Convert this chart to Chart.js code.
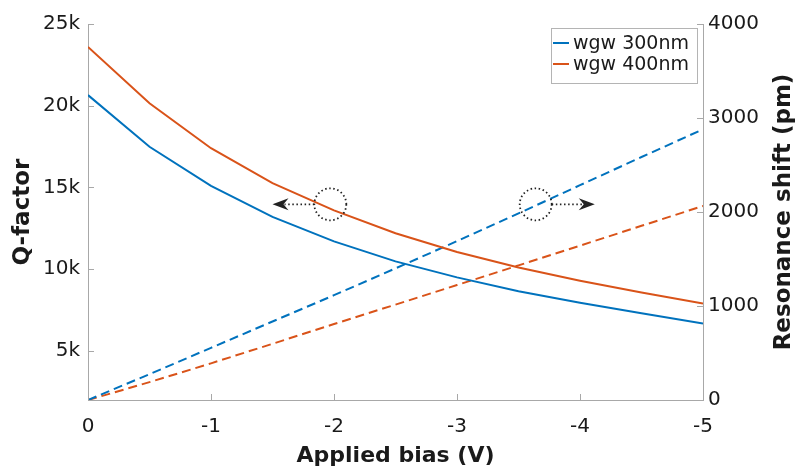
<!DOCTYPE html>
<html>
<head>
<meta charset="utf-8">
<script src="https://cdn.jsdelivr.net/npm/chart.js@4.4.1/dist/chart.umd.min.js"></script>
<style>
  html, body { margin: 0; padding: 0; background: #fff; }
  #wrap { width: 799px; height: 470px; }
</style>
</head>
<body>
<div id="wrap"><canvas id="chart"></canvas></div>
<script>
// applied bias (V), sampled every 0.5 V
const bias = [0, -0.5, -1, -1.5, -2, -2.5, -3, -3.5, -4, -4.5, -5]

// Q-factor (left axis)
const q300 = [20650, 17490, 15100, 13200, 11700, 10480, 9500, 8650, 7950, 7300, 6680]
const q400 = [23600, 20150, 17400, 15270, 13600, 12200, 11050, 10100, 9300, 8580, 7900]

// resonance shift in pm (right axis)
const shift300 = [0, 275, 555, 835, 1115, 1400, 1690, 1985, 2285, 2585, 2880]
const shift400 = [0, 190, 390, 598, 808, 1015, 1223, 1432, 1642, 1853, 2064]

const seriesNames = ['wgw 300nm', 'wgw 400nm']

const biasTicks = [0, -1, -2, -3, -4, -5]
const qTicks = [5000, 10000, 15000, 20000, 25000]
const shiftTicks = [0, 1000, 2000, 3000, 4000]

const BLUE = '#0072BD'
const ORANGE = '#D95319'
const AXIS = '#a8a8a8'
const TEXT = '#1a1a1a'
const FONT = 'DejaVu Sans'

const pts = (ys) => bias.map((b, i) => ({ x: b, y: ys[i] }))

// inward ticks, legend box, right title and the little circle/arrow marks
const extras = {
  id: 'extras',
  afterDraw(chart) {
    const ctx = chart.ctx
    const area = chart.chartArea
    const sx = chart.scales.x, sq = chart.scales.yQ, ss = chart.scales.yS
    ctx.save()

    ctx.strokeStyle = AXIS
    ctx.lineWidth = 1
    ctx.beginPath()
    sx.ticks.forEach(t => {
      const px = Math.round(sx.getPixelForValue(t.value)) + 0.5
      ctx.moveTo(px, area.bottom); ctx.lineTo(px, area.bottom - 6)
    })
    sq.ticks.forEach(t => {
      const py = Math.round(sq.getPixelForValue(t.value)) + 0.5
      ctx.moveTo(area.left, py); ctx.lineTo(area.left + 6, py)
    })
    ss.ticks.forEach(t => {
      const py = Math.round(ss.getPixelForValue(t.value)) + 0.5
      ctx.moveTo(area.right, py); ctx.lineTo(area.right - 6, py)
    })
    ctx.stroke()

    // right axis title, reading bottom to top
    ctx.fillStyle = TEXT
    ctx.font = 'bold 23px "' + FONT + '"'
    ctx.textAlign = 'center'
    ctx.textBaseline = 'middle'
    ctx.translate(784, (area.top + area.bottom) / 2)
    ctx.rotate(-Math.PI / 2)
    ctx.fillText('Resonance shift (pm)', 0, 0)
    ctx.setTransform(1, 0, 0, 1, 0, 0)

    // legend
    const lx = area.right - 152, ly = area.top + 4, lw = 146, lh = 55
    ctx.fillStyle = '#fff'
    ctx.fillRect(lx, ly, lw, lh)
    ctx.strokeStyle = '#b4b4b4'
    ctx.strokeRect(lx + 0.5, ly + 0.5, lw, lh)
    ctx.font = '19px "' + FONT + '"'
    ctx.textAlign = 'left'
    const legendColors = [BLUE, ORANGE]
    seriesNames.forEach((name, i) => {
      const y = ly + 15 + i * 21
      ctx.strokeStyle = legendColors[i]
      ctx.lineWidth = 2
      ctx.beginPath()
      ctx.moveTo(lx + 2, y); ctx.lineTo(lx + 18, y)
      ctx.stroke()
      ctx.fillStyle = TEXT
      ctx.fillText(name, lx + 22, y + 1)
    })

    // dotted circles with arrows pointing to each axis
    const marks = [
      { x: -1.97, q: 13970, tip: -1.50, dir: -1 },
      { x: -3.64, q: 13970, tip: -4.12, dir: 1 }
    ]
    marks.forEach(m => {
      const cx = sx.getPixelForValue(m.x)
      const cy = sq.getPixelForValue(m.q)
      const tx = sx.getPixelForValue(m.tip)
      const r = 16
      ctx.strokeStyle = '#222'
      ctx.lineWidth = 1.8
      ctx.setLineDash([1.5, 2.6])
      ctx.beginPath()
      ctx.arc(cx, cy, r, 0, Math.PI * 2)
      ctx.stroke()
      ctx.beginPath()
      ctx.moveTo(cx + m.dir * r, cy)
      ctx.lineTo(tx - m.dir * 12, cy)
      ctx.stroke()
      ctx.setLineDash([])
      ctx.fillStyle = '#222'
      ctx.beginPath()
      ctx.moveTo(tx, cy)
      ctx.lineTo(tx - m.dir * 16, cy - 6)
      ctx.lineTo(tx - m.dir * 11, cy)
      ctx.lineTo(tx - m.dir * 16, cy + 6)
      ctx.closePath()
      ctx.fill()
    })
    ctx.restore()
  }
}

new Chart(document.getElementById('chart'), {
  type: 'line',
  data: {
    datasets: [
      { label: seriesNames[0], data: pts(q300), yAxisID: 'yQ', borderColor: BLUE, borderWidth: 2, pointRadius: 0, fill: false },
      { label: seriesNames[1], data: pts(q400), yAxisID: 'yQ', borderColor: ORANGE, borderWidth: 2, pointRadius: 0, fill: false },
      { label: seriesNames[0] + ' shift', data: pts(shift300), yAxisID: 'yS', borderColor: BLUE, borderWidth: 2, borderDash: [9, 5], pointRadius: 0, fill: false },
      { label: seriesNames[1] + ' shift', data: pts(shift400), yAxisID: 'yS', borderColor: ORANGE, borderWidth: 2, borderDash: [9, 5], pointRadius: 0, fill: false }
    ]
  },
  options: {
    responsive: true,
    maintainAspectRatio: false,
    animation: false,
    layout: { padding: { top: 24, left: 0, right: 0, bottom: 0 } },
    plugins: {
      legend: { display: false },
      tooltip: { enabled: false }
    },
    scales: {
      x: {
        type: 'linear',
        position: 'bottom',
        reverse: true,
        min: -5,
        max: 0,
        afterBuildTicks: s => { s.ticks = biasTicks.map(v => ({ value: v })) },
        afterFit: s => { s.height = 70 },
        grid: { display: false, drawTicks: false },
        border: { display: true, color: AXIS },
        ticks: { color: TEXT, font: { family: FONT, size: 20 }, padding: 15, maxRotation: 0 },
        title: { display: true, text: 'Applied bias (V)', color: TEXT, font: { family: FONT, size: 22, weight: 'bold' }, padding: { top: 0, bottom: 1 } }
      },
      yQ: {
        type: 'linear',
        position: 'left',
        min: 2000,
        max: 25000,
        afterBuildTicks: s => { s.ticks = qTicks.map(v => ({ value: v })) },
        afterFit: s => { s.width = 88 },
        grid: { display: false, drawTicks: false },
        border: { display: true, color: AXIS },
        ticks: { color: TEXT, font: { family: FONT, size: 20 }, padding: 8, callback: v => (v / 1000) + 'k' },
        title: { display: true, text: 'Q-factor', color: TEXT, font: { family: FONT, size: 23, weight: 'bold' }, padding: { top: 9, bottom: 0 } }
      },
      yS: {
        type: 'linear',
        position: 'right',
        min: 0,
        max: 4000,
        afterBuildTicks: s => { s.ticks = shiftTicks.map(v => ({ value: v })) },
        afterFit: s => { s.width = 96 },
        grid: { display: false, drawTicks: false },
        border: { display: true, color: AXIS },
        ticks: { color: TEXT, font: { family: FONT, size: 20 }, padding: 5, callback: v => String(v) },
        title: { display: false }
      }
    }
  },
  plugins: [extras]
})
</script>
</body>
</html>
